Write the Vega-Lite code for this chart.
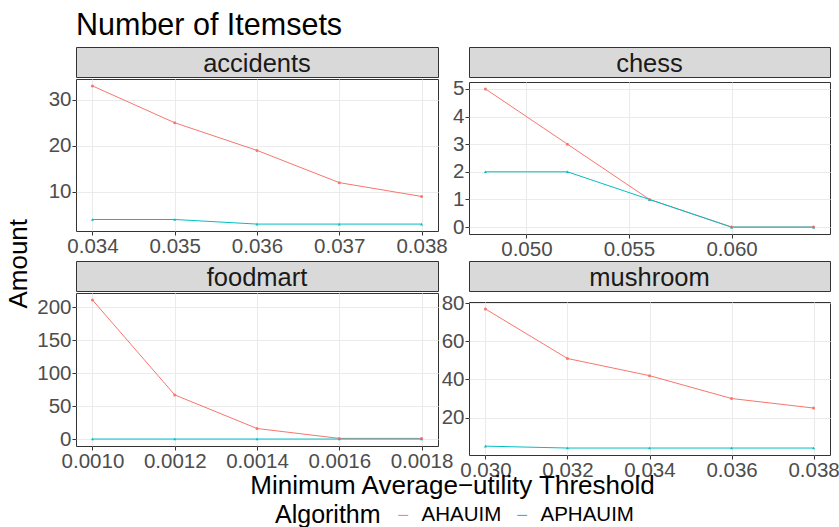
{
  "$schema": "https://vega.github.io/schema/vega-lite/v6.json",
  "autosize": {"type": "pad"},
  "padding": {"left": 6, "top": 11, "right": 0, "bottom": 0},
  "background": "white",
  "datasets": {
    "d": [
      {"dataset": "accidents", "threshold": 0.034, "algorithm": "AHAUIM", "amount": 33},
      {"dataset": "accidents", "threshold": 0.035, "algorithm": "AHAUIM", "amount": 25},
      {"dataset": "accidents", "threshold": 0.036, "algorithm": "AHAUIM", "amount": 19},
      {"dataset": "accidents", "threshold": 0.037, "algorithm": "AHAUIM", "amount": 12},
      {"dataset": "accidents", "threshold": 0.038, "algorithm": "AHAUIM", "amount": 9},
      {"dataset": "accidents", "threshold": 0.034, "algorithm": "APHAUIM", "amount": 4},
      {"dataset": "accidents", "threshold": 0.035, "algorithm": "APHAUIM", "amount": 4},
      {"dataset": "accidents", "threshold": 0.036, "algorithm": "APHAUIM", "amount": 3},
      {"dataset": "accidents", "threshold": 0.037, "algorithm": "APHAUIM", "amount": 3},
      {"dataset": "accidents", "threshold": 0.038, "algorithm": "APHAUIM", "amount": 3},
      {"dataset": "chess", "threshold": 0.048, "algorithm": "AHAUIM", "amount": 5},
      {"dataset": "chess", "threshold": 0.052, "algorithm": "AHAUIM", "amount": 3},
      {"dataset": "chess", "threshold": 0.056, "algorithm": "AHAUIM", "amount": 1},
      {"dataset": "chess", "threshold": 0.060, "algorithm": "AHAUIM", "amount": 0},
      {"dataset": "chess", "threshold": 0.064, "algorithm": "AHAUIM", "amount": 0},
      {"dataset": "chess", "threshold": 0.048, "algorithm": "APHAUIM", "amount": 2},
      {"dataset": "chess", "threshold": 0.052, "algorithm": "APHAUIM", "amount": 2},
      {"dataset": "chess", "threshold": 0.056, "algorithm": "APHAUIM", "amount": 1},
      {"dataset": "chess", "threshold": 0.060, "algorithm": "APHAUIM", "amount": 0},
      {"dataset": "chess", "threshold": 0.064, "algorithm": "APHAUIM", "amount": 0},
      {"dataset": "foodmart", "threshold": 0.0010, "algorithm": "AHAUIM", "amount": 211},
      {"dataset": "foodmart", "threshold": 0.0012, "algorithm": "AHAUIM", "amount": 67},
      {"dataset": "foodmart", "threshold": 0.0014, "algorithm": "AHAUIM", "amount": 16},
      {"dataset": "foodmart", "threshold": 0.0016, "algorithm": "AHAUIM", "amount": 1},
      {"dataset": "foodmart", "threshold": 0.0018, "algorithm": "AHAUIM", "amount": 1},
      {"dataset": "foodmart", "threshold": 0.0010, "algorithm": "APHAUIM", "amount": 0},
      {"dataset": "foodmart", "threshold": 0.0012, "algorithm": "APHAUIM", "amount": 0},
      {"dataset": "foodmart", "threshold": 0.0014, "algorithm": "APHAUIM", "amount": 0},
      {"dataset": "foodmart", "threshold": 0.0016, "algorithm": "APHAUIM", "amount": 0},
      {"dataset": "foodmart", "threshold": 0.0018, "algorithm": "APHAUIM", "amount": 0},
      {"dataset": "mushroom", "threshold": 0.030, "algorithm": "AHAUIM", "amount": 77},
      {"dataset": "mushroom", "threshold": 0.032, "algorithm": "AHAUIM", "amount": 51},
      {"dataset": "mushroom", "threshold": 0.034, "algorithm": "AHAUIM", "amount": 42},
      {"dataset": "mushroom", "threshold": 0.036, "algorithm": "AHAUIM", "amount": 30},
      {"dataset": "mushroom", "threshold": 0.038, "algorithm": "AHAUIM", "amount": 25},
      {"dataset": "mushroom", "threshold": 0.030, "algorithm": "APHAUIM", "amount": 5},
      {"dataset": "mushroom", "threshold": 0.032, "algorithm": "APHAUIM", "amount": 4},
      {"dataset": "mushroom", "threshold": 0.034, "algorithm": "APHAUIM", "amount": 4},
      {"dataset": "mushroom", "threshold": 0.036, "algorithm": "APHAUIM", "amount": 4},
      {"dataset": "mushroom", "threshold": 0.038, "algorithm": "APHAUIM", "amount": 4}
    ]
  },
  "title": {"text": "Number of Itemsets", "anchor": "start", "frame": "group", "fontSize": 30.5, "fontWeight": "normal", "color": "#000000", "offset": 5},
  "vconcat": [
    {
      "title": {"text": "Minimum Average\u2212utility Threshold", "orient": "bottom", "anchor": "middle", "frame": "bounds", "dx": 29.5, "fontSize": 26, "fontWeight": "normal", "color": "#000000", "offset": -8},
      "vconcat": [
        {
          "title": {"text": "Amount", "orient": "left", "anchor": "middle", "frame": "bounds", "fontSize": 26, "fontWeight": "normal", "color": "#000000", "offset": 4},
          "columns": 2,
          "spacing": {"row": 0, "column": -14},
          "concat": [
            {
              "spacing": 0,
              "vconcat": [
                {"width": 362, "height": 30, "view": {"fill": "#D9D9D9", "stroke": "#333333"},
                 "data": {"values": [{"name": "accidents"}]},
                 "mark": {"type": "text", "fontSize": 25.5, "color": "#1A1A1A", "baseline": "alphabetic", "dy": 10},
                 "encoding": {"text": {"field": "name"}}},
                {"width": 362, "height": 152,
                 "data": {"name": "d"},
                 "transform": [{"filter": "datum.dataset == 'accidents'"}],
                 "resolve": {"axis": {"x": "independent", "y": "independent"}},
                 "layer": [
                   {"mark": {"type": "line", "strokeWidth": 1},
                    "encoding": {
                      "x": {"field": "threshold", "type": "quantitative", "scale": {"domain": [0.0338, 0.0382], "nice": false, "zero": false}, "axis": {"orient": "bottom", "values": [0.034, 0.035, 0.036, 0.037, 0.038], "format": ".3f", "title": null}},
                      "y": {"field": "amount", "type": "quantitative", "scale": {"domain": [1.5, 34.5], "nice": false, "zero": false}, "axis": {"orient": "left", "values": [10, 20, 30], "title": null}},
                      "color": {"field": "algorithm", "type": "nominal", "scale": {"domain": ["AHAUIM", "APHAUIM"], "range": ["#F8766D", "#00BFC4"]}, "legend": {"title": "Algorithm", "symbolType": "stroke"}}}},
                   {"mark": {"type": "point", "filled": true, "size": 9, "opacity": 1, "shape": "circle"},
                    "transform": [{"filter": "datum.algorithm == 'AHAUIM'"}],
                    "encoding": {
                      "x": {"field": "threshold", "type": "quantitative", "axis": {"orient": "top", "values": [0.0345, 0.0355, 0.0365, 0.0375], "labels": false, "ticks": false, "gridWidth": 0.5, "title": null}},
                      "y": {"field": "amount", "type": "quantitative", "axis": {"orient": "right", "values": [5, 15, 25], "labels": false, "ticks": false, "gridWidth": 0.5, "title": null}},
                      "color": {"field": "algorithm", "type": "nominal", "legend": null}}},
                   {"mark": {"type": "point", "filled": true, "size": 9, "opacity": 1, "shape": "triangle-up"},
                    "transform": [{"filter": "datum.algorithm == 'APHAUIM'"}],
                    "encoding": {
                      "x": {"field": "threshold", "type": "quantitative", "axis": null},
                      "y": {"field": "amount", "type": "quantitative", "axis": null},
                      "color": {"field": "algorithm", "type": "nominal", "legend": null}}}
                 ]}
              ]
            },
            {
              "spacing": 0,
              "vconcat": [
                {"width": 361, "height": 30, "view": {"fill": "#D9D9D9", "stroke": "#333333"},
                 "data": {"values": [{"name": "chess"}]},
                 "mark": {"type": "text", "fontSize": 25.5, "color": "#1A1A1A", "baseline": "alphabetic", "dy": 10},
                 "encoding": {"text": {"field": "name"}}},
                {"width": 361, "height": 152,
                 "data": {"name": "d"},
                 "transform": [{"filter": "datum.dataset == 'chess'"}],
                 "resolve": {"axis": {"x": "independent", "y": "independent"}},
                 "layer": [
                   {"mark": {"type": "line", "strokeWidth": 1},
                    "encoding": {
                      "x": {"field": "threshold", "type": "quantitative", "scale": {"domain": [0.0472, 0.0648], "nice": false, "zero": false}, "axis": {"orient": "bottom", "values": [0.050, 0.055, 0.060], "format": ".3f", "title": null}},
                      "y": {"field": "amount", "type": "quantitative", "scale": {"domain": [-0.25, 5.25], "nice": false, "zero": false}, "axis": {"orient": "left", "values": [0, 1, 2, 3, 4, 5], "title": null}},
                      "color": {"field": "algorithm", "type": "nominal", "legend": {"title": "Algorithm", "symbolType": "stroke"}}}},
                   {"mark": {"type": "point", "filled": true, "size": 9, "opacity": 1, "shape": "circle"},
                    "transform": [{"filter": "datum.algorithm == 'AHAUIM'"}],
                    "encoding": {
                      "x": {"field": "threshold", "type": "quantitative", "axis": {"orient": "top", "values": [0.0475, 0.0525, 0.0575, 0.0625], "labels": false, "ticks": false, "gridWidth": 0.5, "title": null}},
                      "y": {"field": "amount", "type": "quantitative", "axis": {"orient": "right", "values": [0.5, 1.5, 2.5, 3.5, 4.5], "labels": false, "ticks": false, "gridWidth": 0.5, "title": null}},
                      "color": {"field": "algorithm", "type": "nominal", "legend": null}}},
                   {"mark": {"type": "point", "filled": true, "size": 9, "opacity": 1, "shape": "triangle-up"},
                    "transform": [{"filter": "datum.algorithm == 'APHAUIM'"}],
                    "encoding": {
                      "x": {"field": "threshold", "type": "quantitative", "axis": null},
                      "y": {"field": "amount", "type": "quantitative", "axis": null},
                      "color": {"field": "algorithm", "type": "nominal", "legend": null}}}
                 ]}
              ]
            },
            {
              "spacing": 0,
              "vconcat": [
                {"width": 362, "height": 30, "view": {"fill": "#D9D9D9", "stroke": "#333333"},
                 "data": {"values": [{"name": "foodmart"}]},
                 "mark": {"type": "text", "fontSize": 25.5, "color": "#1A1A1A", "baseline": "alphabetic", "dy": 10},
                 "encoding": {"text": {"field": "name"}}},
                {"width": 362, "height": 153,
                 "data": {"name": "d"},
                 "transform": [{"filter": "datum.dataset == 'foodmart'"}],
                 "resolve": {"axis": {"x": "independent", "y": "independent"}},
                 "layer": [
                   {"mark": {"type": "line", "strokeWidth": 1},
                    "encoding": {
                      "x": {"field": "threshold", "type": "quantitative", "scale": {"domain": [0.00096, 0.00184], "nice": false, "zero": false}, "axis": {"orient": "bottom", "values": [0.0010, 0.0012, 0.0014, 0.0016, 0.0018], "format": ".4f", "title": null}},
                      "y": {"field": "amount", "type": "quantitative", "scale": {"domain": [-10.55, 221.55], "nice": false, "zero": false}, "axis": {"orient": "left", "values": [0, 50, 100, 150, 200], "title": null}},
                      "color": {"field": "algorithm", "type": "nominal", "legend": {"title": "Algorithm", "symbolType": "stroke"}}}},
                   {"mark": {"type": "point", "filled": true, "size": 9, "opacity": 1, "shape": "circle"},
                    "transform": [{"filter": "datum.algorithm == 'AHAUIM'"}],
                    "encoding": {
                      "x": {"field": "threshold", "type": "quantitative", "axis": {"orient": "top", "values": [0.0011, 0.0013, 0.0015, 0.0017], "labels": false, "ticks": false, "gridWidth": 0.5, "title": null}},
                      "y": {"field": "amount", "type": "quantitative", "axis": {"orient": "right", "values": [25, 75, 125, 175], "labels": false, "ticks": false, "gridWidth": 0.5, "title": null}},
                      "color": {"field": "algorithm", "type": "nominal", "legend": null}}},
                   {"mark": {"type": "point", "filled": true, "size": 9, "opacity": 1, "shape": "triangle-up"},
                    "transform": [{"filter": "datum.algorithm == 'APHAUIM'"}],
                    "encoding": {
                      "x": {"field": "threshold", "type": "quantitative", "axis": null},
                      "y": {"field": "amount", "type": "quantitative", "axis": null},
                      "color": {"field": "algorithm", "type": "nominal", "legend": null}}}
                 ]}
              ]
            },
            {
              "spacing": 0,
              "vconcat": [
                {"width": 361, "height": 30, "view": {"fill": "#D9D9D9", "stroke": "#333333"},
                 "data": {"values": [{"name": "mushroom"}]},
                 "mark": {"type": "text", "fontSize": 25.5, "color": "#1A1A1A", "baseline": "alphabetic", "dy": 10},
                 "encoding": {"text": {"field": "name"}}},
                {"width": 361, "height": 153,
                 "data": {"name": "d"},
                 "transform": [{"filter": "datum.dataset == 'mushroom'"}],
                 "resolve": {"axis": {"x": "independent", "y": "independent"}},
                 "layer": [
                   {"mark": {"type": "line", "strokeWidth": 1},
                    "encoding": {
                      "x": {"field": "threshold", "type": "quantitative", "scale": {"domain": [0.0296, 0.0384], "nice": false, "zero": false}, "axis": {"orient": "bottom", "values": [0.030, 0.032, 0.034, 0.036, 0.038], "format": ".3f", "title": null}},
                      "y": {"field": "amount", "type": "quantitative", "scale": {"domain": [0.35, 80.65], "nice": false, "zero": false}, "axis": {"orient": "left", "values": [20, 40, 60, 80], "title": null}},
                      "color": {"field": "algorithm", "type": "nominal", "legend": {"title": "Algorithm", "symbolType": "stroke"}}}},
                   {"mark": {"type": "point", "filled": true, "size": 9, "opacity": 1, "shape": "circle"},
                    "transform": [{"filter": "datum.algorithm == 'AHAUIM'"}],
                    "encoding": {
                      "x": {"field": "threshold", "type": "quantitative", "axis": {"orient": "top", "values": [0.031, 0.033, 0.035, 0.037], "labels": false, "ticks": false, "gridWidth": 0.5, "title": null}},
                      "y": {"field": "amount", "type": "quantitative", "axis": {"orient": "right", "values": [10, 30, 50, 70], "labels": false, "ticks": false, "gridWidth": 0.5, "title": null}},
                      "color": {"field": "algorithm", "type": "nominal", "legend": null}}},
                   {"mark": {"type": "point", "filled": true, "size": 9, "opacity": 1, "shape": "triangle-up"},
                    "transform": [{"filter": "datum.algorithm == 'APHAUIM'"}],
                    "encoding": {
                      "x": {"field": "threshold", "type": "quantitative", "axis": null},
                      "y": {"field": "amount", "type": "quantitative", "axis": null},
                      "color": {"field": "algorithm", "type": "nominal", "legend": null}}}
                 ]}
              ]
            }
          ]
        }
      ]
    }
  ],
  "config": {
    "font": "Liberation Sans",
    "view": {"stroke": "#333333", "strokeWidth": 1},
    "axis": {"domain": false, "grid": true, "gridColor": "#EBEBEB", "gridWidth": 1.1, "tickColor": "#333333", "tickSize": 4, "tickWidth": 1, "labelColor": "#4D4D4D", "labelFontSize": 20.5, "labelPadding": 1, "labelFlush": false, "labelOverlap": false},
    "legend": {"orient": "none", "legendX": 199, "legendY": 458, "direction": "horizontal", "titleOrient": "left", "titleFontSize": 25, "titleFontWeight": "normal", "titleColor": "#000000", "titlePadding": 12, "labelFontSize": 20.5, "labelColor": "#000000", "symbolType": "stroke", "symbolStrokeWidth": 1, "symbolSize": 100, "columnPadding": 10, "labelOffset": 8}
  }
}
